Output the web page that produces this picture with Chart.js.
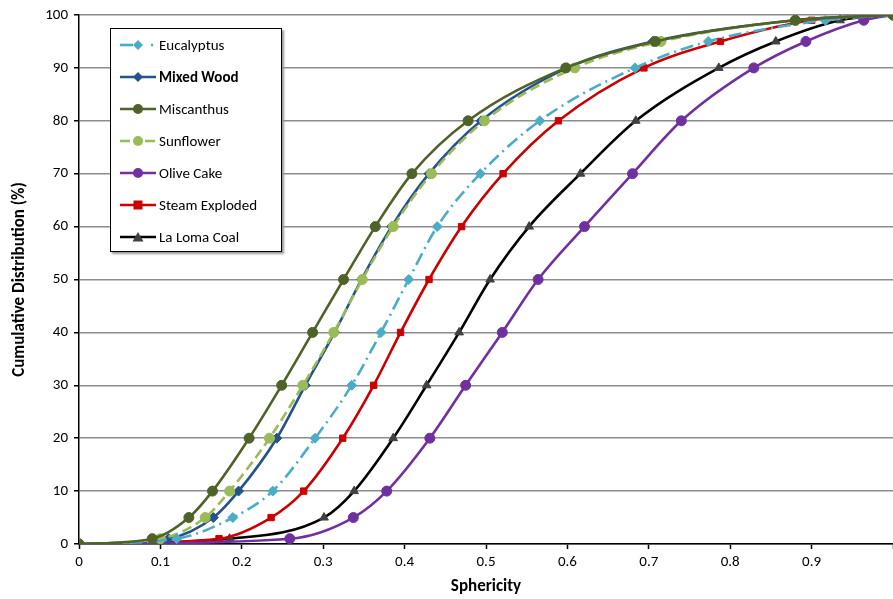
<!DOCTYPE html>
<html>
<head>
<meta charset="utf-8">
<script src="https://cdn.jsdelivr.net/npm/chart.js@4/dist/chart.umd.min.js"></script>
<style>
  body { margin: 0; background: #fff; }
  #wrap { position: relative; width: 893px; height: 599px; }
  #legend {
    position: absolute; left: 110px; top: 28px; width: 172px; height: 224px;
    border: 1px solid #000; background: #fff; box-shadow: 2px 2px 2px #999;
    font-family: Carlito, "Liberation Sans Narrow", "DejaVu Sans Condensed", sans-serif;
    font-size: 15px; color: #000; box-sizing: border-box; padding-top: 0;
  }
  .row { height: 32px; display: flex; align-items: center; padding-left: 9px; }
  .row svg { margin-right: 3px; }
</style>
</head>
<body>
<div id="wrap">
  <canvas id="chart" width="893" height="599"></canvas>
  <div id="legend"></div>
</div>
<script>
// cumulative levels (%) shared by every series
const levels = [0, 1, 5, 10, 20, 30, 40, 50, 60, 70, 80, 90, 95, 99, 100];

// sphericity at each level
const eucalyptus = [0, 0.12, 0.189, 0.238, 0.29, 0.335, 0.371, 0.405, 0.44, 0.493, 0.566, 0.683, 0.773, 0.917, 1];
const mixedWood  = [0, 0.11, 0.165, 0.196, 0.243, 0.278, 0.314, 0.347, 0.384, 0.43, 0.494, 0.6, 0.705, 0.88, 1];
const miscanthus = [0, 0.09, 0.135, 0.164, 0.209, 0.249, 0.287, 0.325, 0.364, 0.409, 0.478, 0.598, 0.708, 0.88, 1];
const sunflower  = [0, 0.1, 0.155, 0.185, 0.234, 0.275, 0.313, 0.348, 0.386, 0.433, 0.498, 0.609, 0.715, 0.88, 1];
const oliveCake  = [0, 0.259, 0.337, 0.378, 0.431, 0.475, 0.52, 0.564, 0.621, 0.68, 0.74, 0.829, 0.893, 0.964, 1];
const steamExpl  = [0, 0.172, 0.236, 0.276, 0.324, 0.362, 0.395, 0.43, 0.47, 0.521, 0.589, 0.694, 0.788, 0.9, 1];
const laLomaCoal = [0, 0.185, 0.301, 0.338, 0.386, 0.427, 0.467, 0.505, 0.553, 0.616, 0.684, 0.786, 0.856, 0.935, 1];

const xTicks = [0, 0.1, 0.2, 0.3, 0.4, 0.5, 0.6, 0.7, 0.8, 0.9];
const yTicks = [0, 10, 20, 30, 40, 50, 60, 70, 80, 90, 100];

const fontFam = 'Carlito, "Liberation Sans Narrow", "DejaVu Sans Condensed", sans-serif';

function pts(xs) {
    return xs.map((x, i) => ({ x: x, y: levels[i] }));
}

const series = [
    { label: 'Eucalyptus', data: eucalyptus, color: '#4bacc6', marker: 'rectRot', dash: [13, 5, 2, 5], order: 1 },
    { label: 'Mixed Wood', data: mixedWood, color: '#24528c', marker: 'rectRot', dash: [], order: 3, bold: true },
    { label: 'Miscanthus', data: miscanthus, color: '#4f6228', marker: 'circle', dash: [], order: 0 },
    { label: 'Sunflower', data: sunflower, color: '#9bbb59', marker: 'circle', dash: [10, 5], order: 2 },
    { label: 'Olive Cake', data: oliveCake, color: '#7030a0', marker: 'circle', dash: [], order: 4 },
    { label: 'Steam Exploded', data: steamExpl, color: '#cc0000', marker: 'rect', dash: [], order: 5 },
    { label: 'La Loma Coal', data: laLomaCoal, color: '#000000', marker: 'triangle', dash: [], order: 6, pointColor: '#404040' }
];

const datasets = series.map(s => ({
    label: s.label,
    data: pts(s.data),
    borderColor: s.color,
    backgroundColor: s.pointColor || s.color,
    pointBackgroundColor: s.pointColor || s.color,
    pointBorderColor: s.pointColor || s.color,
    pointStyle: s.marker,
    pointRadius: s.marker === 'rect' ? 4.5 : 5,
    pointBorderWidth: 1,
    borderWidth: 2.6,
    borderDash: s.dash,
    cubicInterpolationMode: 'monotone',
    order: s.order
}));

new Chart(document.getElementById('chart'), {
    type: 'line',
    data: { datasets: datasets },
    options: {
        responsive: false,
        animation: false,
        layout: { autoPadding: false, padding: { top: 14, right: 0, left: 0, bottom: 0 } },
        plugins: { legend: { display: false }, tooltip: { enabled: false } },
        scales: {
            x: {
                type: 'linear',
                min: 0, max: 1,
                afterBuildTicks: axis => { axis.ticks = xTicks.concat([1]).map(v => ({ value: v })); },
                afterFit: scale => { scale.height = 55; scale.paddingRight = 0; },
                border: { color: '#000', width: 1.5 },
                grid: { drawOnChartArea: false, drawTicks: true, tickLength: 5, tickColor: '#000', tickWidth: 1.5 },
                ticks: {
                    padding: 4,
                    color: '#000',
                    font: { family: fontFam, size: 15 },
                    callback: v => (v === 1 ? '' : (v === 0 ? '0' : v.toFixed(1)))
                },
                title: {
                    display: true, text: 'Sphericity', color: '#000',
                    font: { family: fontFam, size: 17, weight: 'bold' },
                    padding: { top: 0, bottom: 2 }
                }
            },
            y: {
                min: 0, max: 100,
                afterBuildTicks: axis => { axis.ticks = yTicks.map(v => ({ value: v })); },
                afterFit: scale => { scale.width = 79; },
                border: { color: '#000', width: 1.5 },
                grid: {
                    color: '#8c8c8c', lineWidth: 1.5,
                    drawTicks: true, tickLength: 5, tickColor: '#000', tickWidth: 1.5
                },
                ticks: {
                    padding: 6,
                    color: '#000',
                    font: { family: fontFam, size: 15 }
                },
                title: {
                    display: true, text: 'Cumulative Distribution (%)', color: '#000',
                    font: { family: fontFam, size: 17, weight: 'bold' },
                    padding: { top: 10, bottom: 0 }
                }
            }
        }
    }
});

// legend box in the top-left corner
function markerSvg(s) {
    const c = s.pointColor || s.color;
    let m = '';
    if (s.marker === 'circle') m = `<circle cx="18" cy="6" r="5" fill="${c}"/>`;
    else if (s.marker === 'rectRot') m = `<polygon points="18,1 23,6 18,11 13,6" fill="${c}"/>`;
    else if (s.marker === 'rect') m = `<rect x="13.5" y="1.5" width="9" height="9" fill="${c}"/>`;
    else m = `<polygon points="18,1 23.5,10.5 12.5,10.5" fill="${c}"/>`;
    let line;
    if (s.label === 'Eucalyptus') {
        line = `<line x1="0" y1="6" x2="13" y2="6" stroke="${s.color}" stroke-width="2.6"/>` +
               `<line x1="31" y1="6" x2="33" y2="6" stroke="${s.color}" stroke-width="2.6"/>`;
    } else if (s.label === 'Sunflower') {
        line = `<line x1="0" y1="6" x2="10" y2="6" stroke="${s.color}" stroke-width="2.6"/>` +
               `<line x1="25" y1="6" x2="35" y2="6" stroke="${s.color}" stroke-width="2.6"/>`;
    } else {
        line = `<line x1="0" y1="6" x2="36" y2="6" stroke="${s.color}" stroke-width="2.6"/>`;
    }
    return `<svg width="36" height="12">${line}${m}</svg>`;
}

const legendEl = document.getElementById('legend');
series.forEach(s => {
    const row = document.createElement('div');
    row.className = 'row';
    row.innerHTML = markerSvg(s) + `<span style="font-weight:${s.bold ? 'bold' : 'normal'}">${s.label}</span>`;
    legendEl.appendChild(row);
});
</script>
</body>
</html>
